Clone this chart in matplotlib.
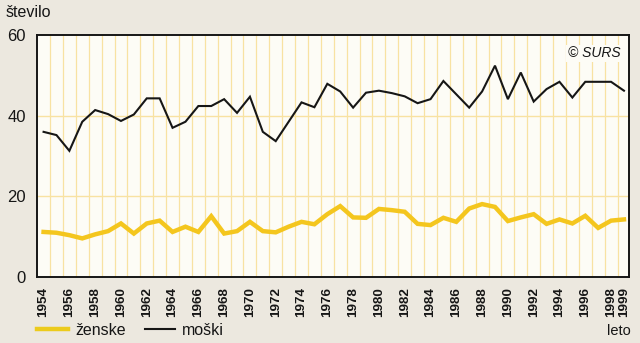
import matplotlib
matplotlib.use("Agg")
import matplotlib.pyplot as plt
import numpy as np

years = list(range(1954, 2000))

moski = [36.0, 35.2, 31.3, 38.5, 41.4, 40.4, 38.7, 40.3, 44.3, 44.3,
         37.0, 38.5, 42.4, 42.4, 44.1, 40.7, 44.7, 36.0, 33.7, 38.5,
         43.3, 42.1, 47.9, 46.0, 42.0, 45.7, 46.2, 45.6, 44.8, 43.1,
         44.1, 48.6, 45.3, 42.0, 46.0, 52.4, 44.1, 50.7, 43.5, 46.6,
         48.4, 44.5, 48.4, 48.4, 48.4, 46.2]

zenske = [11.2, 11.0, 10.4, 9.6, 10.6, 11.4, 13.3, 10.8, 13.3, 14.0,
          11.2, 12.5, 11.2, 15.1, 10.8, 11.4, 13.7, 11.4, 11.1, 12.5,
          13.7, 13.1, 15.6, 17.6, 14.8, 14.7, 16.9, 16.6, 16.2, 13.2,
          12.9, 14.7, 13.7, 17.0, 18.1, 17.4, 13.9, 14.8, 15.6, 13.2,
          14.3, 13.3, 15.2, 12.2, 14.0, 14.3]

tick_years = list(range(1954, 1999, 2)) + [1999]
y_ticks = [0, 20, 40, 60]

BG = "#ece8df"
PLOT_BG = "#fdfcf6"
GRID = "#f8e2a2"
YELLOW = "#f4c61e"
INK = "#161616"
sans = ["Liberation Sans", "DejaVu Sans"]

fig = plt.figure(figsize=(6.4, 3.43), dpi=100, facecolor=BG)
ax = fig.add_axes([0.058, 0.192, 0.925, 0.706], facecolor=PLOT_BG)

# vertical grid lines sit between the years
for g in np.arange(1954.5, 1999.5, 1.0):
    ax.axvline(g, color=GRID, lw=0.9, zorder=0)
for v in (20, 40):
    ax.axhline(v, color=GRID, lw=1.0, zorder=0)

ax.plot(years, zenske, color=YELLOW, lw=3.2, solid_joinstyle="miter", zorder=3)
ax.plot(years, moski, color=INK, lw=1.5, solid_joinstyle="miter", zorder=4)

ax.set_xlim(1953.5, 1999.4)
ax.set_ylim(0, 60)
ax.set_yticks(y_ticks)
ax.set_yticklabels([str(v) for v in y_ticks], fontsize=12, family=sans, color=INK)
ax.set_xticks(tick_years)
ax.set_xticklabels([str(y) for y in tick_years], rotation=90, fontsize=9.6,
                   family=sans, color=INK, fontweight="bold")
ax.tick_params(axis="x", length=0, pad=7)
ax.tick_params(axis="y", length=0, pad=8)
for s in ax.spines.values():
    s.set_color(INK)
    s.set_linewidth(1.4)

ax.text(0.985, 0.925, "© SURS", transform=ax.transAxes, ha="right", va="center",
        fontsize=10, style="italic", family=sans, color=INK,
        bbox=dict(facecolor=PLOT_BG, edgecolor="none", pad=1))

fig.text(0.008, 0.963, "število", ha="left", va="center", fontsize=11.5,
         family=sans, color=INK)
fig.text(0.986, 0.035, "leto", ha="right", va="center", fontsize=10.5,
         family=sans, color=INK)

# legend drawn along the bottom edge
fig.add_artist(plt.Line2D([0.058, 0.106], [0.041, 0.041], color="#eccb1c", lw=3.2))
fig.text(0.117, 0.037, "ženske", ha="left", va="center", fontsize=11.5,
         family=sans, color=INK)
fig.add_artist(plt.Line2D([0.227, 0.274], [0.041, 0.041], color=INK, lw=1.5))
fig.text(0.284, 0.037, "moški", ha="left", va="center", fontsize=11.5,
         family=sans, color=INK)

fig.savefig("out.png", dpi=100, facecolor=BG)
